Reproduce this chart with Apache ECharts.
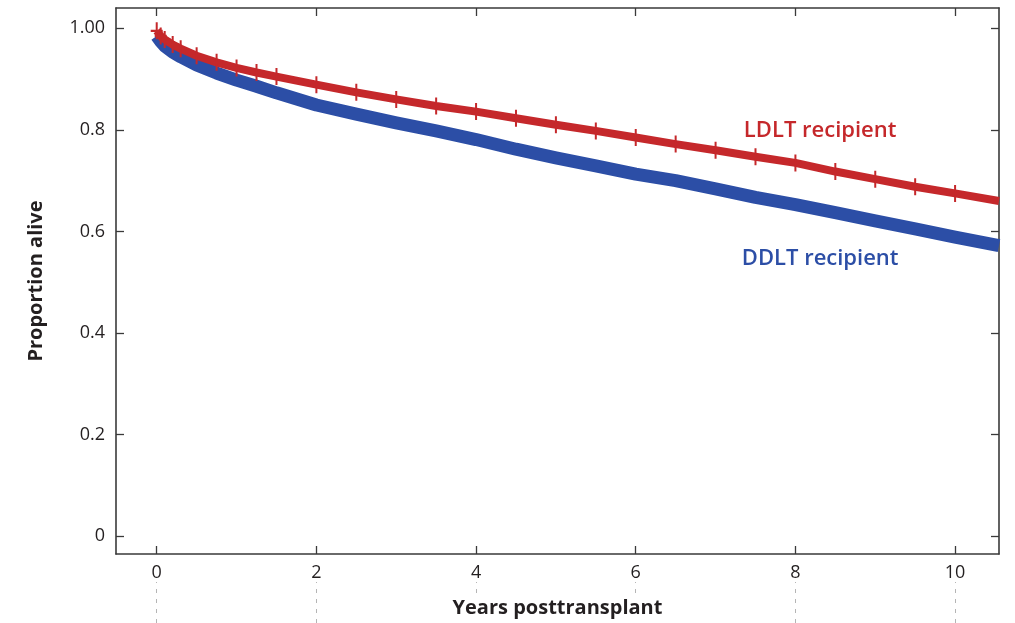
<!DOCTYPE html>
<html>
<head>
<meta charset="utf-8">
<script src="https://cdn.jsdelivr.net/npm/echarts@6/dist/echarts.min.js"></script>
<style>
html,body{margin:0;padding:0;background:#fff;}
#chart{width:1015px;height:623px;}
</style>
</head>
<body>
<div id="chart"></div>
<script>
// Years posttransplant (sample times)
var years = [0, 0.05, 0.1, 0.2, 0.3, 0.5, 0.75, 1.0, 1.25, 1.5, 2.0, 2.5, 3.0, 3.5, 4.0, 4.5, 5.0, 5.5, 6.0, 6.5, 7.0, 7.5, 8.0, 8.5, 9.0, 9.5, 10.0, 10.55];
// Proportion alive, LDLT recipients
var ldlt = [0.995, 0.985, 0.978, 0.968, 0.960, 0.946, 0.933, 0.922, 0.913, 0.905, 0.889, 0.874, 0.860, 0.847, 0.836, 0.823, 0.810, 0.798, 0.785, 0.772, 0.760, 0.747, 0.735, 0.718, 0.703, 0.688, 0.675, 0.660];
// Proportion alive, DDLT recipients
var ddlt = [0.985, 0.974, 0.965, 0.953, 0.944, 0.928, 0.912, 0.898, 0.886, 0.873, 0.849, 0.831, 0.814, 0.798, 0.781, 0.762, 0.745, 0.729, 0.713, 0.700, 0.684, 0.667, 0.653, 0.637, 0.621, 0.605, 0.589, 0.572];
// Tick values and labels
var xTicks = [0, 2, 4, 6, 8, 10];
var yTicks = [0, 0.2, 0.4, 0.6, 0.8, 1.0];
var yTickLabels = ['0', '0.2', '0.4', '0.6', '0.8', '1.00'];
var seriesNames = ['LDLT recipient', 'DDLT recipient'];

var RED = '#c5282b';
var BLUE = '#2c4ea6';
var AX = '#3a3a3a';
var FONT = 'Open Sans';

function pairs(xs, ys) { return xs.map(function (x, i) { return [x, ys[i]]; }); }

var xRange = { min: -0.51, max: 10.55 };
var yRange = { min: -0.035, max: 1.04 };

var ldltData = pairs(years, ldlt).map(function (p, i, arr) {
  return i === arr.length - 1 ? { value: p, symbol: 'none' } : p;
});

var chart = echarts.init(document.getElementById('chart'), null, { renderer: 'canvas' });
chart.setOption({
  backgroundColor: '#fff',
  animation: false,
  grid: [
    { left: 116, right: 16, top: 8, bottom: 69, outerBoundsMode: 'none', containLabel: false },
    { left: 116, right: 16, top: 582, bottom: 0, outerBoundsMode: 'none', containLabel: false }
  ],
  xAxis: [
    {
      type: 'value', gridIndex: 0, position: 'bottom', min: xRange.min, max: xRange.max, z: 5,
      axisLine: { show: true, onZero: false, lineStyle: { color: AX, width: 1.6 } },
      axisTick: { show: true, inside: true, length: 8, customValues: xTicks, lineStyle: { color: AX, width: 1.3 } },
      axisLabel: { show: true, customValues: xTicks, margin: 10, fontFamily: FONT, fontSize: 18, color: '#231f20' },
      splitLine: { show: false },
      name: 'Years posttransplant', nameLocation: 'middle', nameGap: 44,
      nameTextStyle: { fontFamily: FONT, fontSize: 20, fontWeight: 'bold', color: '#231f20', backgroundColor: '#fff', padding: [0, 4, 8, 4] }
    },
    {
      type: 'value', gridIndex: 0, position: 'top', min: xRange.min, max: xRange.max,
      axisLine: { show: true, onZero: false, lineStyle: { color: AX, width: 1.6 } },
      axisTick: { show: true, inside: true, length: 8, customValues: xTicks, lineStyle: { color: AX, width: 1.3 } },
      axisLabel: { show: false }, splitLine: { show: false }
    },
    {
      type: 'value', gridIndex: 1, min: xRange.min, max: xRange.max,
      axisLine: { show: false }, axisTick: { show: false }, axisLabel: { show: false }, splitLine: { show: false }
    }
  ],
  yAxis: [
    {
      type: 'value', gridIndex: 0, position: 'left', min: yRange.min, max: yRange.max,
      axisLine: { show: true, onZero: false, lineStyle: { color: AX, width: 1.6 } },
      axisTick: { show: true, inside: true, length: 8, customValues: yTicks, lineStyle: { color: AX, width: 1.3 } },
      axisLabel: {
        show: true, customValues: yTicks, margin: 11, fontFamily: FONT, fontSize: 18, color: '#231f20',
        formatter: function (v) { var i = yTicks.findIndex(function (t) { return Math.abs(t - v) < 1e-6; }); return i >= 0 ? yTickLabels[i] : ''; }
      },
      splitLine: { show: false },
      name: 'Proportion alive', nameLocation: 'middle', nameGap: 70,
      nameTextStyle: { fontFamily: FONT, fontSize: 20, fontWeight: 'bold', color: '#231f20' }
    },
    {
      type: 'value', gridIndex: 0, position: 'right', min: yRange.min, max: yRange.max,
      axisLine: { show: true, onZero: false, lineStyle: { color: AX, width: 1.6 } },
      axisTick: { show: true, inside: true, length: 8, customValues: yTicks, lineStyle: { color: AX, width: 1.3 } },
      axisLabel: { show: false }, splitLine: { show: false }
    },
    {
      type: 'value', gridIndex: 1, min: 0, max: 1,
      axisLine: { show: false }, axisTick: { show: false }, axisLabel: { show: false }, splitLine: { show: false }
    }
  ],
  series: [
    {
      name: seriesNames[1], type: 'line', xAxisIndex: 0, yAxisIndex: 0,
      data: pairs(years, ddlt), showSymbol: false, symbol: 'none', z: 3,
      lineStyle: { color: BLUE, width: 13, cap: 'butt', join: 'round' },
      markPoint: {
        symbol: 'circle', symbolSize: 0, silent: true,
        data: [{ coord: [8.31, 0.547], label: { show: true, formatter: seriesNames[1], color: BLUE, fontFamily: FONT, fontSize: 22, fontWeight: 600 } }]
      }
    },
    {
      name: seriesNames[0], type: 'line', xAxisIndex: 0, yAxisIndex: 0,
      data: ldltData, showSymbol: true, z: 4,
      symbol: 'path://M5,0h2v16h-2z M0,7h12v2h-12z', symbolSize: [12, 17],
      itemStyle: { color: RED },
      lineStyle: { color: RED, width: 8, join: 'round' },
      markPoint: {
        symbol: 'circle', symbolSize: 0, silent: true,
        data: [{ coord: [8.31, 0.799], label: { show: true, formatter: seriesNames[0], color: RED, fontFamily: FONT, fontSize: 22, fontWeight: 600 } }]
      }
    },
    {
      type: 'line', xAxisIndex: 2, yAxisIndex: 2, data: [], z: 1, silent: true,
      markLine: {
        symbol: 'none', silent: true, label: { show: false },
        lineStyle: { color: '#b5b5b5', width: 1, type: [4, 6] },
        data: xTicks.map(function (t) { return { xAxis: t }; })
      }
    }
  ]
});
</script>
</body>
</html>
